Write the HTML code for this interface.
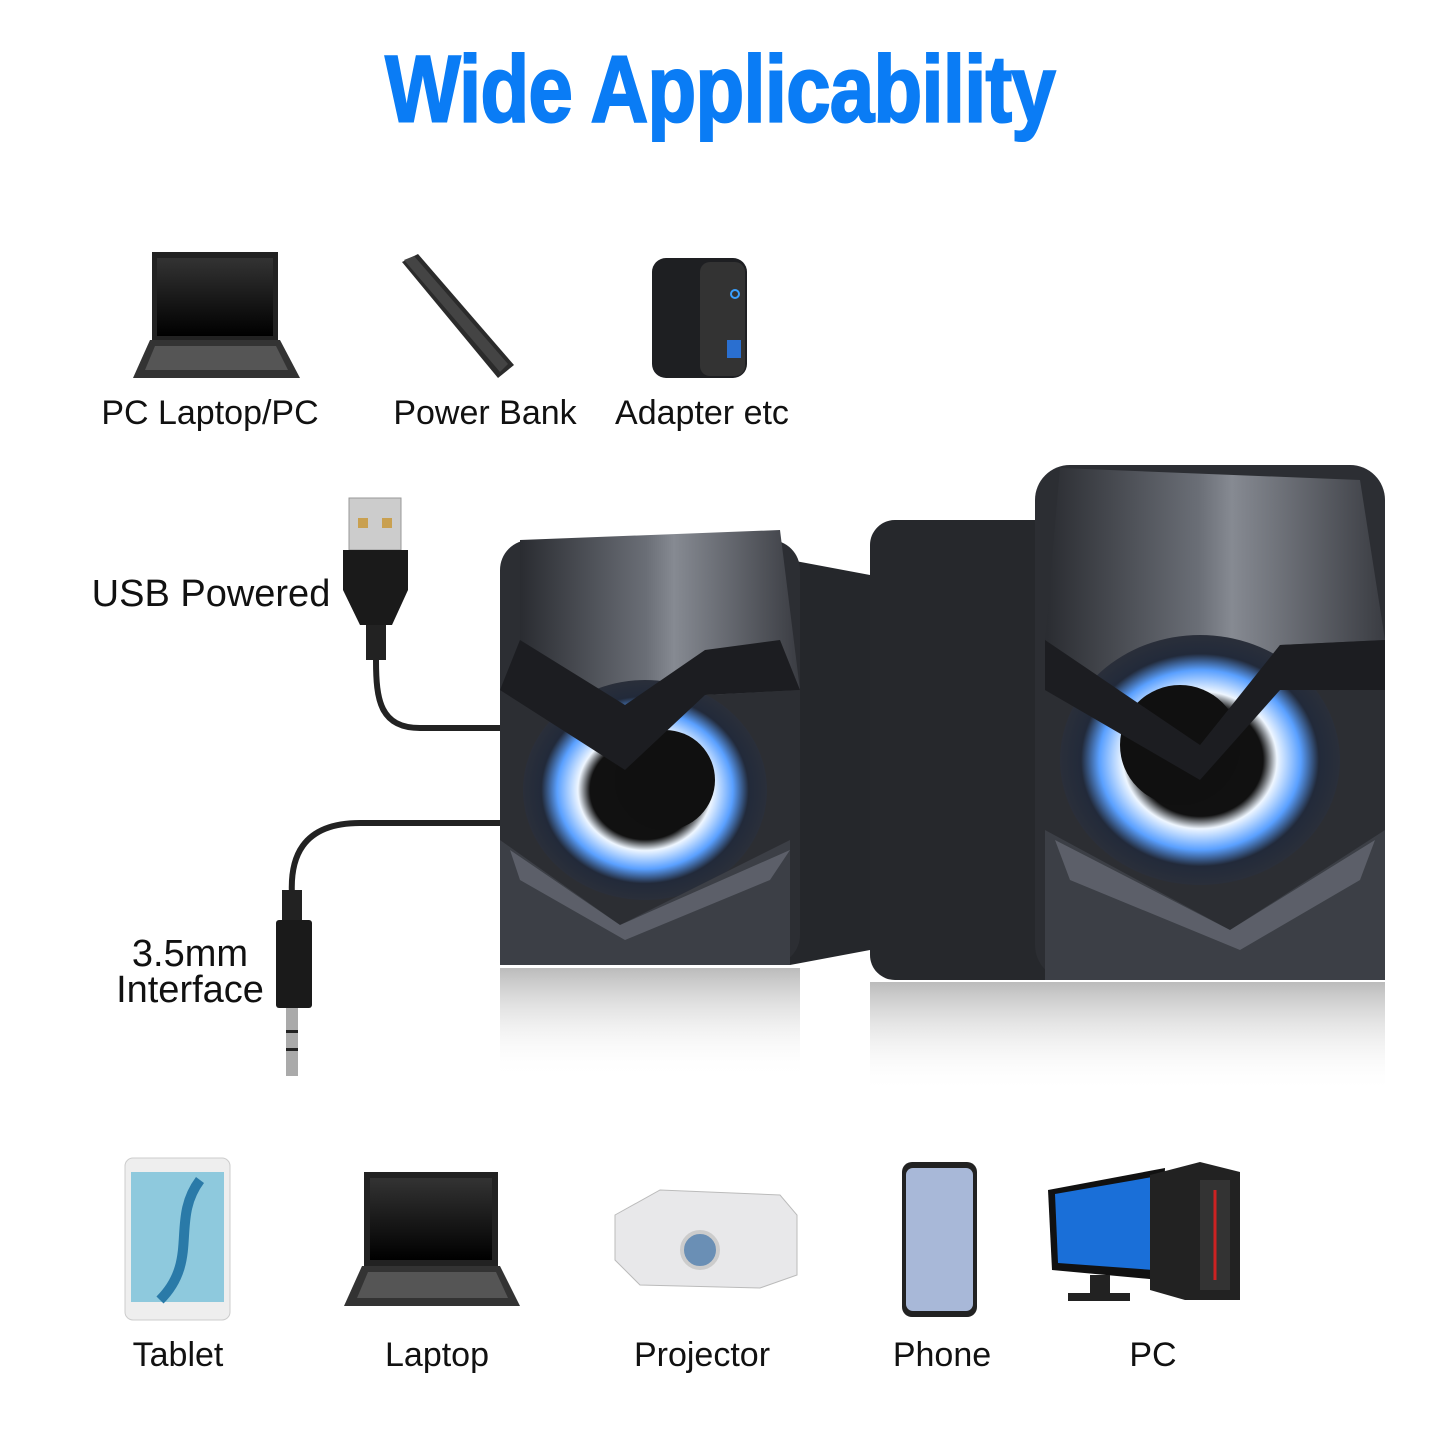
<!DOCTYPE html>
<html><head><meta charset="utf-8"><style>
html,body{margin:0;padding:0;background:#fff;}
body{width:1440px;height:1440px;overflow:hidden;position:relative;font-family:"Liberation Sans",sans-serif;}
svg{position:absolute;left:0;top:0;}
</style></head><body>
<svg width="1440" height="1440" viewBox="0 0 1440 1440" xmlns="http://www.w3.org/2000/svg">
<defs>
<radialGradient id="ring" cx="0.5" cy="0.5" r="0.5">
<stop offset="0.45" stop-color="#111"/><stop offset="0.55" stop-color="#eef6ff"/><stop offset="0.72" stop-color="#5aa0ff"/><stop offset="0.85" stop-color="#222a3a"/><stop offset="1" stop-color="#2a2f3a"/>
</radialGradient>
<linearGradient id="top" x1="0" y1="0" x2="1" y2="0"><stop offset="0" stop-color="#2a2c31"/><stop offset="0.45" stop-color="#6a6e76"/><stop offset="0.55" stop-color="#868a92"/><stop offset="1" stop-color="#3a3c42"/></linearGradient>
<linearGradient id="refl" x1="0" y1="0" x2="0" y2="1"><stop offset="0" stop-color="#777" stop-opacity="0.5"/><stop offset="1" stop-color="#fff" stop-opacity="0"/></linearGradient>
<linearGradient id="scr" x1="0" y1="0" x2="0" y2="1"><stop offset="0" stop-color="#333"/><stop offset="1" stop-color="#000"/></linearGradient>
</defs>

<text x="720" y="122" text-anchor="middle" font-family="Liberation Sans Narrow, Liberation Sans, sans-serif" font-weight="bold" font-size="92" fill="#0a7cf5" stroke="#0a7cf5" stroke-width="2" transform="translate(720 0) scale(0.87 1.03) translate(-720 -4)" letter-spacing="-1">Wide Applicability</text>

<!-- top laptop -->
<rect x="152" y="252" width="126" height="88" fill="#222"/><rect x="157" y="258" width="116" height="78" fill="url(#scr)"/>
<polygon points="150,340 280,340 300,378 133,378" fill="#333"/><polygon points="155,346 276,346 288,370 145,370" fill="#555"/>
<!-- power bank -->
<polygon points="402,262 418,254 514,365 498,378" fill="#2b2b2b"/><polygon points="404,260 414,256 508,364 500,372" fill="#444"/>
<!-- adapter -->
<rect x="652" y="258" width="95" height="120" rx="14" fill="#1e1f22"/><rect x="700" y="262" width="45" height="114" rx="10" fill="#333"/>
<circle cx="735" cy="294" r="4" fill="none" stroke="#3aa0ff" stroke-width="2"/><rect x="727" y="340" width="14" height="18" fill="#2a6fd0"/>

<g font-size="34" fill="#111">
<text x="210" y="424" text-anchor="middle">PC Laptop/PC</text>
<text x="485" y="424" text-anchor="middle">Power Bank</text>
<text x="702" y="424" text-anchor="middle">Adapter etc</text>
<text x="211" y="606" text-anchor="middle" font-size="38">USB Powered</text>
<text x="190" y="966" text-anchor="middle" font-size="38">3.5mm</text>
<text x="190" y="1002" text-anchor="middle" font-size="38">Interface</text>
<text x="178" y="1366" text-anchor="middle">Tablet</text>
<text x="437" y="1366" text-anchor="middle">Laptop</text>
<text x="702" y="1366" text-anchor="middle">Projector</text>
<text x="942" y="1366" text-anchor="middle">Phone</text>
<text x="1153" y="1366" text-anchor="middle">PC</text>
</g>

<!-- usb plug & cables -->
<rect x="349" y="498" width="52" height="52" fill="#ccc" stroke="#999"/><rect x="358" y="518" width="10" height="10" fill="#c9a050"/><rect x="382" y="518" width="10" height="10" fill="#c9a050"/>
<polygon points="343,550 408,550 408,590 392,625 360,625 343,590" fill="#1a1a1a"/>
<rect x="366" y="625" width="20" height="35" fill="#222"/>
<path d="M376 660 C376 700 380 728 420 728 L505 728" fill="none" stroke="#222" stroke-width="6"/>
<path d="M505 823 L360 823 C300 823 290 860 292 895" fill="none" stroke="#222" stroke-width="6"/>
<rect x="282" y="890" width="20" height="30" fill="#222"/><rect x="276" y="920" width="36" height="88" rx="3" fill="#1a1a1a"/>
<rect x="286" y="1008" width="12" height="68" fill="#aaa"/>
<rect x="286" y="1030" width="12" height="3" fill="#222"/><rect x="286" y="1048" width="12" height="3" fill="#222"/>

<!-- left speaker -->
<polygon points="790,560 870,575 870,950 790,965" fill="#25272b"/>
<rect x="500" y="540" width="300" height="425" rx="30" fill="#2c2e33"/>
<polygon points="520,540 780,530 800,690 705,695 625,770 520,690" fill="url(#top)"/>
<ellipse cx="645" cy="790" rx="122" ry="110" fill="url(#ring)"/>
<ellipse cx="665" cy="780" rx="50" ry="50" fill="#101010"/>
<polygon points="500,690 625,770 705,695 800,690 780,640 705,650 625,705 520,640" fill="#1c1d21"/>
<polygon points="500,840 620,925 790,840 790,965 500,965" fill="#3c3f46"/>
<polygon points="510,850 620,925 790,850 770,880 625,940 520,880" fill="#6a6e77" opacity="0.7"/>
<!-- right speaker -->
<rect x="870" y="520" width="200" height="460" rx="25" fill="#26282c"/>
<rect x="1035" y="465" width="350" height="515" rx="35" fill="#2c2e33"/>
<polygon points="1060,468 1360,480 1385,640 1280,645 1200,745 1045,640" fill="url(#top)"/>
<ellipse cx="1200" cy="760" rx="140" ry="125" fill="url(#ring)"/>
<ellipse cx="1180" cy="745" rx="60" ry="60" fill="#101010"/>
<polygon points="1045,640 1200,745 1280,645 1385,640 1385,690 1280,690 1200,780 1045,690" fill="#1c1d21"/>
<polygon points="1045,830 1230,930 1385,830 1385,980 1045,980" fill="#3c3f46"/>
<polygon points="1055,840 1230,930 1375,840 1360,880 1240,950 1070,880" fill="#6a6e77" opacity="0.7"/>
<!-- reflections -->
<rect x="500" y="968" width="300" height="110" fill="url(#refl)"/>
<rect x="870" y="982" width="515" height="110" fill="url(#refl)"/>

<!-- tablet -->
<rect x="125" y="1158" width="105" height="162" rx="8" fill="#eee" stroke="#ccc"/><rect x="131" y="1172" width="93" height="130" fill="#8ec9dd"/>
<path d="M160 1300 C200 1260 170 1220 200 1180" stroke="#2a7aa8" stroke-width="10" fill="none"/>
<!-- laptop -->
<rect x="364" y="1172" width="134" height="94" fill="#222"/><rect x="370" y="1178" width="122" height="82" fill="url(#scr)"/>
<polygon points="362,1266 500,1266 520,1306 344,1306" fill="#333"/><polygon points="368,1272 496,1272 508,1298 357,1298" fill="#555"/>
<!-- projector -->
<polygon points="615,1215 660,1190 780,1195 797,1215 797,1275 760,1288 640,1285 615,1260" fill="#e8e8ea" stroke="#bbb"/>
<circle cx="700" cy="1250" r="18" fill="#6a8fb5" stroke="#ccc" stroke-width="4"/>
<!-- phone -->
<rect x="902" y="1162" width="75" height="155" rx="10" fill="#222"/><rect x="906" y="1168" width="67" height="143" rx="7" fill="#a8b8d8"/>
<!-- pc -->
<polygon points="1048,1190 1165,1168 1160,1280 1052,1270" fill="#111"/><polygon points="1055,1194 1158,1176 1154,1270 1058,1263" fill="#1a6fd8"/>
<rect x="1090" y="1275" width="20" height="18" fill="#222"/><rect x="1068" y="1293" width="62" height="8" fill="#222"/>
<polygon points="1150,1175 1200,1162 1240,1172 1240,1300 1185,1300 1150,1290" fill="#222"/>
<rect x="1200" y="1180" width="30" height="110" fill="#333"/><line x1="1215" y1="1190" x2="1215" y2="1280" stroke="#c22" stroke-width="3"/>
</svg>
</body></html>
